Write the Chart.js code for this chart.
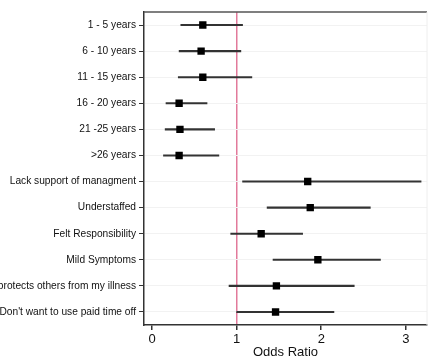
<!DOCTYPE html>
<html>
<head>
<meta charset="utf-8">
<script src="https://cdn.jsdelivr.net/npm/chart.js@4.4.0/dist/chart.umd.min.js"></script>
<style>
  body { margin: 0; background: #fff; }
</style>
</head>
<body>
<canvas id="canvas" width="428" height="359"></canvas>
<script>
var labels = ['1 - 5 years', '6 - 10 years', '11 - 15 years', '16 - 20 years', '21 -25 years', '>26 years',
    'Lack support of managment', 'Understaffed', 'Felt Responsibility', 'Mild Symptoms',
    'protects others from my illness', "Don't want to use paid time off"];
var oddsRatio = [0.60, 0.58, 0.60, 0.32, 0.33, 0.32, 1.84, 1.87, 1.29, 1.96, 1.47, 1.46];
var lowerCI = [0.34, 0.32, 0.31, 0.165, 0.155, 0.135, 1.07, 1.36, 0.93, 1.43, 0.91, 1.00];
var upperCI = [1.07, 1.05, 1.18, 0.65, 0.74, 0.79, 3.18, 2.58, 1.78, 2.70, 2.39, 2.15];
var xTicks = [0, 1, 2, 3];

var font = "'Liberation Sans', Arial, Helvetica, sans-serif";

// top frame line + faint right edge
var framePlugin = {
    id: 'frame',
    afterDraw: function(chart) {
        var a = chart.chartArea, c = chart.ctx;
        c.save();
        c.strokeStyle = '#555';
        c.lineWidth = 1.5;
        c.beginPath();
        c.moveTo(a.left, a.top);
        c.lineTo(a.right, a.top);
        c.stroke();
        c.strokeStyle = '#eee';
        c.lineWidth = 1;
        c.beginPath();
        c.moveTo(a.right, a.top);
        c.lineTo(a.right, a.bottom);
        c.stroke();
        c.restore();
    }
};

const ctx = document.getElementById('canvas').getContext('2d');
const myChart = new Chart(ctx, {
    type: 'bar',
    data: {
        labels: labels,
        datasets: [{
            type: 'line',
            indexAxis: 'y',
            data: labels.map(function(l, i) { return {x: oddsRatio[i], y: l}; }),
            showLine: false,
            pointStyle: 'rect',
            pointRadius: 5.2,
            pointBackgroundColor: '#000',
            pointBorderWidth: 0,
            order: 0
        }, {
            data: labels.map(function(l, i) { return [lowerCI[i], upperCI[i]]; }),
            backgroundColor: '#333',
            barThickness: 1.5,
            order: 1
        }]
    },
    options: {
        indexAxis: 'y',
        responsive: false,
        animation: false,
        layout: { autoPadding: false, padding: { top: 12, right: 1, left: 0, bottom: 0 } },
        plugins: {
            legend: { display: false },
            tooltip: { enabled: false }
        },
        scales: {
            x: {
                type: 'linear',
                min: -0.095,
                max: 3.25,
                afterBuildTicks: function(s) { s.ticks = xTicks.map(function(v) { return {value: v}; }); },
                ticks: { color: '#111', font: { family: font, size: 13 }, padding: 2 },
                grid: {
                    color: function(c) { return c.tick && c.tick.value === 1 ? '#e27a9b' : 'rgba(0,0,0,0)'; },
                    lineWidth: 1.5,
                    tickColor: '#333',
                    tickLength: 5
                },
                border: { color: '#333', width: 1.5 },
                title: { display: true, text: 'Odds Ratio', color: '#111', font: { family: font, size: 13, lineHeight: 1 }, padding: 0 },
                afterFit: function(s) { s.height = 34; s.paddingLeft = 0; s.paddingRight = 0; }
            },
            y: {
                type: 'category',
                offset: true,
                ticks: { color: '#111', font: { family: font, size: 10.2 }, padding: 3, autoSkip: false },
                grid: { offset: false, color: '#f2f2f2', lineWidth: 1, tickColor: '#333', tickLength: 5 },
                border: { color: '#333', width: 1.5 },
                afterFit: function(s) { s.width = 144; }
            }
        }
    },
    plugins: [framePlugin]
});
</script>
</body>
</html>
